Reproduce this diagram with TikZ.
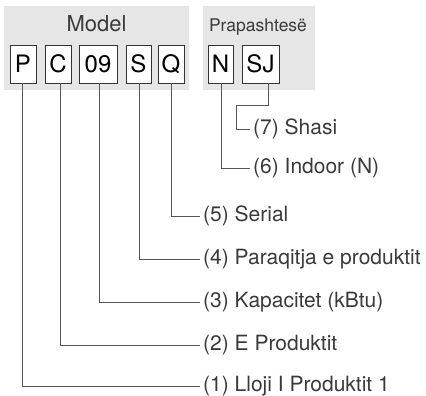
\documentclass[tikz,border=0pt]{standalone}
\usepackage{fontspec}
\setmainfont{TeX Gyre Heros}
\definecolor{panelgray}{HTML}{E6E6E6}
\definecolor{boxline}{HTML}{333333}
\definecolor{linegray}{HTML}{555555}
\definecolor{labeltext}{HTML}{3A3A3A}
\begin{document}
\begin{tikzpicture}[x=1pt,y=-1pt,
  panel/.style={fill=panelgray, draw=none, inner sep=0pt, anchor=north west},
  digit/.style={draw=boxline, fill=white, line width=0.9pt, minimum height=38pt, inner sep=0pt, font=\fontsize{24}{24}\selectfont, text=black},
  lbl/.style={anchor=west, inner sep=3pt, font=\fontsize{21}{21}\selectfont, text=labeltext},
  paneltitle/.style={anchor=base, inner sep=0pt, text=labeltext},
  conn/.style={draw=linegray, line width=0.9pt}]
\useasboundingbox (0,0) rectangle (426,396);
% panels
\node[panel, minimum width=185pt, minimum height=84pt] (modelpanel) at (4,6) {};
\node[panel, minimum width=112pt, minimum height=84pt] (prefpanel) at (203,6) {};
\node[paneltitle, font=\fontsize{22}{22}\selectfont] (modeltitle) at (96.5,32) {Model};
\node[paneltitle, font=\fontsize{17.5}{17.5}\selectfont] (preftitle) at (258,32) {Prapashtesë};
% code boxes
\node[digit, minimum width=26pt] (P) at (23,64) {P};
\node[digit, minimum width=26pt] (C) at (58,64) {C};
\node[digit, minimum width=38pt] (D) at (98,64) {09};
\node[digit, minimum width=25pt] (S) at (138.5,64) {S};
\node[digit, minimum width=26pt] (Q) at (171,64) {Q};
\node[digit, minimum width=25pt] (N) at (220.5,64) {N};
\node[digit, minimum width=37pt] (SJ) at (260.5,64) {SJ};
% labels
\node[lbl] (l7) at (250,129) {(7) Shasi};
\node[lbl] (l6) at (250,168) {(6) Indoor (N)};
\node[lbl] (l5) at (200,216) {(5) Serial};
\node[lbl] (l4) at (200,259.5) {(4) Paraqitja e produktit};
\node[lbl] (l3) at (200,302.5) {(3) Kapacitet (kBtu)};
\node[lbl] (l2) at (200,345.5) {(2) E Produktit};
\node[lbl] (l1) at (200,386) {(1) Lloji I Produktit 1};
\coordinate (j7) at (236,105);
% connectors
\draw[conn] ([xshift=-1pt]P.south) |- (l1.west);
\draw[conn] ([xshift=2pt]C.south) |- (l2.west);
\draw[conn] ([xshift=1pt]D.south) |- (l3.west);
\draw[conn] ([xshift=0.5pt]S.south) |- (l4.west);
\draw[conn] (Q.south) |- (l5.west);
\draw[conn] ([xshift=1pt]N.south) |- (l6.west);
\draw[conn] ([xshift=7.5pt]SJ.south) |- (j7) |- (l7.west);
\end{tikzpicture}
\end{document}
